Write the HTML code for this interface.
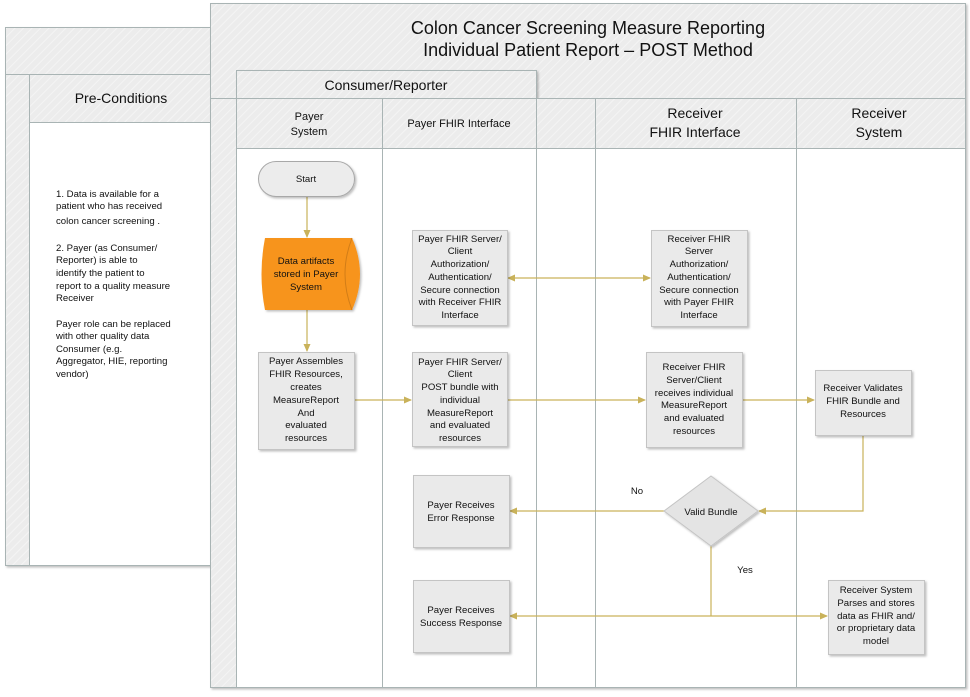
<!DOCTYPE html>
<html><head><meta charset="utf-8"><style>
html,body{margin:0;padding:0;background:#fff}
svg{display:block}
text{font-family:"Liberation Sans",sans-serif;fill:#111}
.n{font-size:9.6px}
</style></head><body>
<svg width="970" height="697" viewBox="0 0 970 697" xmlns="http://www.w3.org/2000/svg">
<defs>
<pattern id="h" width="6" height="6" patternUnits="userSpaceOnUse" patternTransform="rotate(45)">
<rect width="6" height="6" fill="#ececec"/><line x1="0" y1="0" x2="0" y2="6" stroke="#f4f4f4" stroke-width="2"/>
</pattern>
<filter id="s" x="-10%" y="-10%" width="130%" height="130%"><feDropShadow dx="1.5" dy="1.5" stdDeviation="1" flood-color="#000" flood-opacity="0.25"/></filter>
<marker id="a" markerWidth="8" markerHeight="8" refX="7" refY="4" orient="auto" markerUnits="userSpaceOnUse"><path d="M0,0.5 L8,4 L0,7.5 Z" fill="#c9b25a"/></marker>
<marker id="as" markerWidth="8" markerHeight="8" refX="1" refY="4" orient="auto" markerUnits="userSpaceOnUse"><path d="M8,0.5 L0,4 L8,7.5 Z" fill="#c9b25a"/></marker>
</defs>
<g stroke="#a9b4b4" stroke-width="1">
<!-- precondition panel -->
<rect x="5.5" y="27.5" width="208" height="538" fill="url(#h)" filter="url(#s)"/>
<rect x="29.5" y="74.5" width="184" height="48" fill="url(#h)"/>
<rect x="29.5" y="122.5" width="184" height="443" fill="#fff"/>
<line x1="5" y1="74.5" x2="29" y2="74.5"/>
<!-- main panel -->
<rect x="210.5" y="3.5" width="755" height="684" fill="url(#h)" filter="url(#s)"/>
<rect x="236.5" y="70.5" width="300" height="28" fill="url(#h)" filter="url(#s)"/>
<line x1="210" y1="98.5" x2="965" y2="98.5"/>
<rect x="236.5" y="98.5" width="729" height="50" fill="url(#h)"/>
<rect x="236.5" y="148.5" width="729" height="539" fill="#fff"/>
<line x1="382.5" y1="98" x2="382.5" y2="688"/>
<line x1="536.5" y1="98" x2="536.5" y2="688"/>
<line x1="595.5" y1="98" x2="595.5" y2="688"/>
<line x1="796.5" y1="98" x2="796.5" y2="688"/>
</g>
<text x="588" y="34" font-size="18" text-anchor="middle">Colon Cancer Screening Measure Reporting</text>
<text x="588" y="56" font-size="18" text-anchor="middle">Individual Patient Report – POST Method</text>
<text x="386" y="90" font-size="14" text-anchor="middle">Consumer/Reporter</text>
<text x="121" y="103" font-size="14" text-anchor="middle">Pre-Conditions</text>
<text x="309" y="120" font-size="11" text-anchor="middle">Payer</text>
<text x="309" y="135" font-size="11" text-anchor="middle">System</text>
<text x="459" y="127" font-size="11" text-anchor="middle">Payer  FHIR Interface</text>
<text x="695" y="118" font-size="14" text-anchor="middle">Receiver</text>
<text x="695" y="137" font-size="14" text-anchor="middle">FHIR Interface</text>
<text x="879" y="118" font-size="14" text-anchor="middle">Receiver</text>
<text x="879" y="137" font-size="14" text-anchor="middle">System</text>
<g class="n">
<text x="56" y="197">1. Data is available for a</text>
<text x="56" y="209">patient who has received</text>
<text x="56" y="224">colon cancer screening .</text>
<text x="56" y="251">2. Payer (as Consumer/</text>
<text x="56" y="263">Reporter) is able to</text>
<text x="56" y="276">identify the patient to</text>
<text x="56" y="289">report to a quality measure</text>
<text x="56" y="301">Receiver</text>
<text x="56" y="327">Payer role can be replaced</text>
<text x="56" y="339">with other quality data</text>
<text x="56" y="352">Consumer (e.g.</text>
<text x="56" y="364">Aggregator, HIE, reporting</text>
<text x="56" y="377">vendor)</text>
</g>
<!-- connectors -->
<g stroke="#c9b25a" stroke-width="1.2" fill="none">
<line x1="307" y1="196" x2="307" y2="237" marker-end="url(#a)"/>
<line x1="307" y1="310" x2="307" y2="351" marker-end="url(#a)"/>
<line x1="354" y1="400" x2="411" y2="400" marker-end="url(#a)"/>
<line x1="507" y1="400" x2="645" y2="400" marker-end="url(#a)"/>
<line x1="742" y1="400" x2="814" y2="400" marker-end="url(#a)"/>
<line x1="508" y1="278" x2="650" y2="278" marker-start="url(#as)" marker-end="url(#a)"/>
<polyline points="863,435 863,511 759,511" marker-end="url(#a)"/>
<line x1="664" y1="511" x2="510" y2="511" marker-end="url(#a)"/>
<line x1="711" y1="546" x2="711" y2="616"/>
<line x1="510" y1="616" x2="827" y2="616" marker-start="url(#as)" marker-end="url(#a)"/>
</g>
<!-- nodes -->
<g stroke="#c4c4c4" stroke-width="1" fill="#eaeaea" filter="url(#s)">
<rect x="258.5" y="161.5" width="96" height="35" rx="17.5" fill="#ececec" stroke="#a8a8a8"/>
<rect x="258.5" y="352.5" width="96" height="97"/>
<rect x="412.5" y="230.5" width="95" height="95"/>
<rect x="651.5" y="230.5" width="96" height="96"/>
<rect x="412.5" y="352.5" width="95" height="94"/>
<rect x="646.5" y="352.5" width="96" height="95"/>
<rect x="815.5" y="370.5" width="96" height="65"/>
<rect x="413.5" y="475.5" width="96" height="72"/>
<rect x="413.5" y="580.5" width="96" height="72"/>
<rect x="828.5" y="580.5" width="96" height="74"/>
<polygon points="711,476 758,511 711,546 664,511" fill="#e4e4e4"/>
</g>
<path d="M265,238 H352 Q368,274 352,310 H265 Q258,274 265,238 Z" fill="#f7941d" filter="url(#s)"/>
<path d="M352,238 Q338,274 352,310" fill="none" stroke="#d27d17" stroke-width="1"/>
<g class="n" text-anchor="middle">
<text x="306" y="182">Start</text>
<text x="306" y="264">Data artifacts</text>
<text x="306" y="277">stored in Payer</text>
<text x="306" y="290">System</text>
<text x="306" y="364">Payer Assembles</text>
<text x="306" y="377">FHIR Resources,</text>
<text x="306" y="390">creates</text>
<text x="306" y="403">MeasureReport</text>
<text x="306" y="416">And</text>
<text x="306" y="428">evaluated</text>
<text x="306" y="441">resources</text>
<text x="460" y="242">Payer FHIR Server/</text>
<text x="460" y="254">Client</text>
<text x="460" y="267">Authorization/</text>
<text x="460" y="280">Authentication/</text>
<text x="460" y="293">Secure connection</text>
<text x="460" y="305">with Receiver FHIR</text>
<text x="460" y="318">Interface</text>
<text x="699" y="242">Receiver FHIR</text>
<text x="699" y="254">Server</text>
<text x="699" y="267">Authorization/</text>
<text x="699" y="280">Authentication/</text>
<text x="699" y="293">Secure connection</text>
<text x="699" y="305">with Payer FHIR</text>
<text x="699" y="318">Interface</text>
<text x="460" y="365">Payer FHIR Server/</text>
<text x="460" y="377">Client</text>
<text x="460" y="390">POST bundle with</text>
<text x="460" y="403">individual</text>
<text x="460" y="416">MeasureReport</text>
<text x="460" y="428">and evaluated</text>
<text x="460" y="441">resources</text>
<text x="694" y="370">Receiver FHIR</text>
<text x="694" y="383">Server/Client</text>
<text x="694" y="396">receives individual</text>
<text x="694" y="408">MeasureReport</text>
<text x="694" y="421">and evaluated</text>
<text x="694" y="434">resources</text>
<text x="863" y="391">Receiver Validates</text>
<text x="863" y="404">FHIR Bundle and</text>
<text x="863" y="417">Resources</text>
<text x="461" y="508">Payer Receives</text>
<text x="461" y="521">Error Response</text>
<text x="711" y="515">Valid Bundle</text>
<text x="461" y="613">Payer Receives</text>
<text x="461" y="626">Success Response</text>
<text x="876" y="593">Receiver System</text>
<text x="876" y="606">Parses and stores</text>
<text x="876" y="619">data as FHIR and/</text>
<text x="876" y="631">or proprietary data</text>
<text x="876" y="644">model</text>
<text x="637" y="494">No</text>
<text x="745" y="573">Yes</text>
</g>
</svg>
</body></html>
